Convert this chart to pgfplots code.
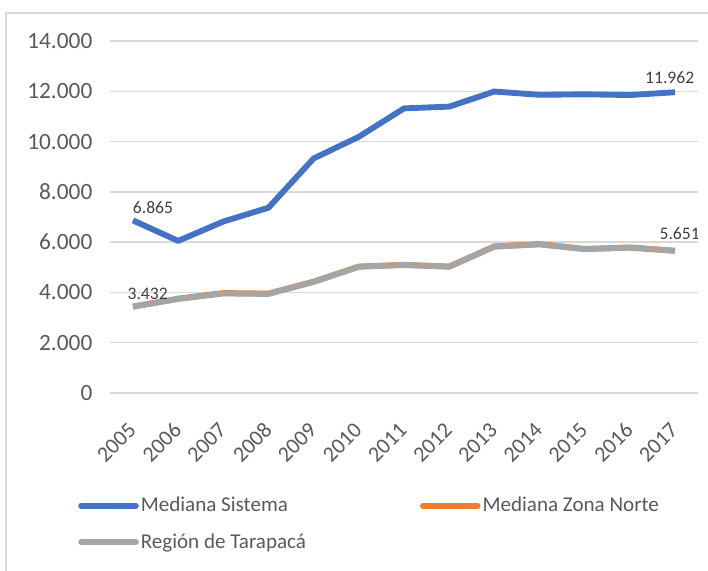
\documentclass[border=0pt]{standalone}
\usepackage{fontspec}
\setmainfont{Carlito}
\usepackage{pgfplots}
\pgfplotsset{compat=1.18}
\definecolor{cBlue}{HTML}{4472C4}
\definecolor{cOrange}{HTML}{ED7D31}
\definecolor{cGray}{HTML}{A5A5A5}
\definecolor{cGrid}{HTML}{D9D9D9}
\definecolor{cText}{HTML}{595959}
\definecolor{cLabel}{HTML}{404040}
\begin{document}
\begin{tikzpicture}
\path[use as bounding box] (0,0) rectangle (531pt,-428.25pt);
\begin{scope}
\clip (0,0) rectangle (531pt,-428.25pt);
\draw[cGrid, line width=1.5pt] (4.5pt,-9.5pt) rectangle (560pt,-460pt);
\end{scope}
\begin{axis}[
  at={(82.8pt,-294.75pt)}, anchor=south west,
  scale only axis, width=440.4pt, height=264pt,
  xmin=2004.5, xmax=2017.5, ymin=0, ymax=14000,
  xtick={2005,...,2017}, ytick={0,2000,...,14000},
  scaled y ticks=false,
  axis lines*=left, axis line style={draw=none},
  major tick length=0pt,
  ymajorgrids, grid style={cGrid, line width=1.1pt},
  tick label style={text=cText},
  /pgf/number format/assume math mode=true,
  yticklabel style={font=\fontsize{17.5}{20}\selectfont, /pgf/number format/1000 sep={.}, xshift=-10pt},
  xticklabel style={font=\fontsize{16.5}{19}\selectfont, /pgf/number format/1000 sep={}, rotate=45, anchor=north east, inner sep=0pt, xshift=-18pt, yshift=-11.7pt},
  legend columns=2,
  legend cell align=left,
  legend style={at={(-0.062,-0.288)}, anchor=north west, draw=none, fill=none,
    font=\fontsize{15.8}{18}\selectfont, text=cText, row sep=14.75pt,
    nodes={inner sep=0pt},
    /tikz/column 1/.style={column sep=1.5pt},
    /tikz/column 2/.style={column sep=85.5pt},
    /tikz/column 3/.style={column sep=1.5pt}},
  legend image code/.code={\draw[#1, line width=4.4pt, line cap=round] (0pt,0pt) -- (41pt,0pt);},
  every axis plot/.append style={line width=4.4pt, line join=round, mark=none},
]
\addplot[cBlue] coordinates {(2005,6865) (2006,6050) (2007,6820) (2008,7370) (2009,9330) (2010,10190) (2011,11320) (2012,11390) (2013,11990) (2014,11860) (2015,11880) (2016,11850) (2017,11962)};
\addlegendentry{Mediana Sistema}
\addplot[cOrange] coordinates {(2005,3440) (2006,3750) (2007,3975) (2008,3955) (2009,4430) (2010,5030) (2011,5100) (2012,5030) (2013,5830) (2014,5925) (2015,5730) (2016,5790) (2017,5660)};
\addlegendentry{Mediana Zona Norte}
\addplot[cGray] coordinates {(2005,3432) (2006,3740) (2007,3960) (2008,3940) (2009,4420) (2010,5020) (2011,5090) (2012,5020) (2013,5820) (2014,5910) (2015,5720) (2016,5780) (2017,5651)};
\addlegendentry{Región de Tarapacá}
\node[font=\fontsize{13.2}{16}\selectfont, text=cLabel, xshift=15pt, yshift=9.5pt] at (axis cs:2005,6865) {6.865};
\node[font=\fontsize{13.2}{16}\selectfont, text=cLabel, xshift=11pt, yshift=10pt] at (axis cs:2005,3432) {3.432};
\node[font=\fontsize{13.2}{16}\selectfont, text=cLabel, xshift=-4pt, yshift=11pt] at (axis cs:2017,11962) {11.962};
\node[font=\fontsize{13.2}{16}\selectfont, text=cLabel, xshift=3.5pt, yshift=13pt] at (axis cs:2017,5651) {5.651};
\end{axis}
\end{tikzpicture}
\end{document}
